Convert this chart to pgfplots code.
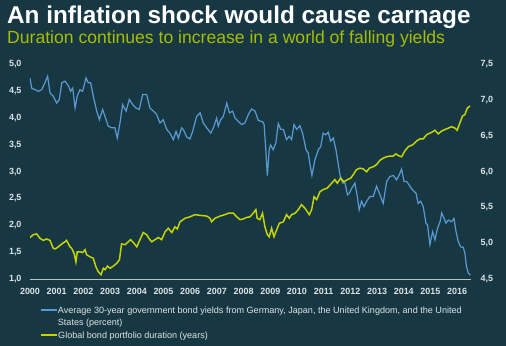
\documentclass[border=0pt]{standalone}
\usepackage{pgfplots}
\pgfplotsset{compat=1.18}
\usepackage{fontspec}
\setmainfont{Liberation Sans}
\definecolor{bg}{HTML}{173843}
\definecolor{blueline}{HTML}{5A9AD2}
\definecolor{yellowline}{HTML}{C4D400}
\definecolor{subt}{HTML}{A6BE00}
\definecolor{ticktxt}{HTML}{DDE3E6}
\definecolor{axisgray}{HTML}{B5C0C4}

\pgfplotstableread{
x y
2000.00 4.75
2000.06 4.56
2000.19 4.53
2000.31 4.50
2000.44 4.53
2000.56 4.66
2000.66 4.78
2000.75 4.47
2000.87 4.41
2001.00 4.28
2001.10 4.35
2001.19 4.66
2001.31 4.69
2001.44 4.60
2001.52 4.50
2001.60 4.56
2001.69 4.19
2001.77 4.41
2001.87 4.53
2001.97 4.50
2002.10 4.75
2002.18 4.66
2002.27 4.66
2002.37 4.41
2002.50 4.13
2002.60 3.97
2002.72 4.16
2002.81 4.03
2002.93 3.85
2003.06 3.82
2003.18 3.82
2003.27 3.63
2003.37 3.91
2003.47 4.25
2003.60 4.13
2003.72 4.35
2003.85 4.25
2003.97 4.19
2004.09 4.16
2004.22 4.44
2004.37 4.44
2004.49 4.19
2004.62 4.13
2004.74 4.07
2004.87 3.91
2004.99 3.97
2005.12 3.79
2005.24 3.72
2005.37 3.60
2005.47 3.75
2005.56 3.63
2005.68 3.82
2005.74 3.79
2005.87 3.65
2005.99 3.61
2006.09 3.75
2006.24 4.03
2006.37 4.10
2006.49 3.91
2006.62 3.82
2006.77 3.72
2006.87 3.82
2006.99 4.00
2007.05 3.85
2007.14 3.97
2007.24 4.03
2007.37 4.28
2007.47 4.10
2007.59 4.13
2007.68 4.00
2007.80 3.94
2007.93 3.88
2008.05 3.91
2008.18 4.07
2008.30 4.17
2008.43 4.13
2008.55 3.96
2008.65 3.94
2008.72 3.93
2008.77 3.88
2008.84 3.35
2008.89 2.93
2008.96 3.41
2009.01 3.50
2009.11 3.41
2009.21 3.54
2009.30 3.90
2009.39 3.79
2009.49 3.79
2009.61 3.60
2009.71 3.66
2009.80 3.60
2009.89 3.88
2009.99 3.79
2010.11 3.86
2010.21 3.72
2010.34 3.41
2010.42 3.35
2010.48 3.16
2010.56 2.93
2010.67 3.22
2010.80 3.41
2010.89 3.47
2010.98 3.72
2011.08 3.69
2011.17 3.74
2011.26 3.57
2011.36 3.63
2011.46 3.41
2011.55 3.13
2011.61 2.94
2011.71 2.79
2011.80 2.79
2011.89 2.57
2011.96 2.60
2012.05 2.69
2012.17 2.79
2012.26 2.54
2012.33 2.29
2012.42 2.45
2012.51 2.35
2012.61 2.45
2012.73 2.54
2012.86 2.54
2012.98 2.73
2013.11 2.57
2013.23 2.41
2013.36 2.82
2013.48 2.91
2013.61 2.93
2013.73 2.85
2013.83 2.94
2013.92 3.05
2014.01 2.82
2014.11 2.82
2014.23 2.73
2014.33 2.66
2014.46 2.60
2014.54 2.41
2014.63 2.45
2014.73 2.35
2014.83 2.04
2014.89 2.01
2014.98 1.64
2015.08 1.88
2015.17 1.73
2015.25 1.92
2015.36 2.07
2015.42 2.23
2015.51 2.13
2015.58 2.04
2015.67 2.10
2015.79 2.07
2015.88 2.13
2015.96 1.88
2016.04 1.70
2016.13 1.60
2016.23 1.59
2016.29 1.48
2016.35 1.23
2016.42 1.11
2016.50 1.07
}\yields

\pgfplotstableread{
x y
2000.00 5.08
2000.12 5.12
2000.25 5.13
2000.37 5.07
2000.50 5.04
2000.62 5.06
2000.75 5.04
2000.87 4.93
2000.94 4.92
2001.06 4.95
2001.19 4.99
2001.31 5.02
2001.37 5.04
2001.50 4.95
2001.56 4.93
2001.65 4.86
2001.72 4.74
2001.77 4.88
2001.87 4.88
2001.97 4.87
2002.06 4.91
2002.12 4.84
2002.25 4.81
2002.37 4.79
2002.47 4.67
2002.56 4.60
2002.66 4.56
2002.75 4.65
2002.81 4.63
2002.90 4.68
2003.00 4.65
2003.12 4.68
2003.25 4.72
2003.35 4.77
2003.43 4.99
2003.56 4.98
2003.68 5.02
2003.77 5.05
2003.87 5.01
2004.00 4.95
2004.12 5.05
2004.24 5.15
2004.37 5.12
2004.47 5.06
2004.56 5.02
2004.68 5.05
2004.81 5.08
2004.93 5.05
2005.06 5.16
2005.18 5.21
2005.31 5.15
2005.43 5.23
2005.52 5.20
2005.62 5.30
2005.81 5.35
2005.99 5.37
2006.18 5.40
2006.37 5.39
2006.62 5.38
2006.74 5.35
2006.80 5.30
2006.93 5.35
2007.12 5.38
2007.30 5.40
2007.43 5.42
2007.62 5.42
2007.74 5.37
2007.87 5.33
2007.99 5.34
2008.11 5.36
2008.24 5.37
2008.36 5.42
2008.46 5.47
2008.51 5.35
2008.61 5.33
2008.71 5.42
2008.80 5.23
2008.89 5.12
2008.96 5.09
2009.05 5.21
2009.14 5.09
2009.21 5.16
2009.34 5.28
2009.49 5.30
2009.61 5.40
2009.71 5.35
2009.80 5.40
2009.93 5.42
2010.05 5.47
2010.17 5.54
2010.30 5.49
2010.46 5.40
2010.55 5.47
2010.64 5.65
2010.74 5.61
2010.86 5.72
2010.98 5.75
2011.13 5.77
2011.30 5.84
2011.42 5.89
2011.51 5.84
2011.63 5.91
2011.76 5.86
2011.89 5.89
2012.01 5.91
2012.11 5.96
2012.23 6.03
2012.36 6.05
2012.48 6.04
2012.61 6.00
2012.71 6.05
2012.86 6.07
2012.98 6.10
2013.11 6.16
2013.23 6.19
2013.36 6.21
2013.48 6.22
2013.61 6.22
2013.70 6.25
2013.83 6.22
2013.92 6.21
2014.04 6.29
2014.17 6.35
2014.35 6.38
2014.48 6.43
2014.61 6.46
2014.73 6.46
2014.86 6.52
2015.04 6.55
2015.17 6.58
2015.29 6.53
2015.42 6.57
2015.54 6.59
2015.67 6.61
2015.79 6.63
2015.92 6.61
2016.00 6.58
2016.10 6.68
2016.20 6.78
2016.29 6.80
2016.38 6.89
2016.48 6.92
}\duration

\pgfplotsset{
  mylegend/.style={draw=none, fill=none, inner sep=0pt, outer sep=0pt,
    row sep=2.5bp, column sep=0.7bp, font=\fontsize{9.1}{11}\selectfont,
    nodes={inner sep=0pt, text height=7bp, text depth=2.2bp, text=ticktxt}, cells={anchor=base west}},
}

\begin{document}
\begin{tikzpicture}
\fill[bg] (0bp,0bp) rectangle (506bp,346bp);
\node[anchor=base west, inner sep=0, text=white, font=\fontsize{24.4}{28}\selectfont\bfseries] at (7bp,322.7bp) {An inflation shock would cause carnage};
\node[anchor=base west, inner sep=0, text=subt, font=\fontsize{17.65}{22}\selectfont] at (7bp,302bp) {Duration continues to increase in a world of falling yields};

\begin{axis}[
  at={(30bp,67bp)}, anchor=south west,
  scale only axis, width=440.5bp, height=214.5bp,
  xmin=2000, xmax=2016.5, ymin=1, ymax=5,
  axis x line*=bottom, axis y line*=left,
  axis line style={-},
  y axis line style={draw=none},
  x axis line style={draw=axisgray, line width=0.9bp},
  major tick length=0,
  xtick={2000,2001,...,2016},
  ytick={1,1.5,2,2.5,3,3.5,4,4.5,5},
  /pgf/number format/assume math mode=true,
  xticklabel style={/pgf/number format/1000 sep={}, text=ticktxt, font=\fontsize{9}{10}\selectfont\bfseries, yshift=-5.5bp},
  yticklabel style={/pgf/number format/.cd, use comma, fixed, fixed zerofill, precision=1, /tikz/.cd, text=ticktxt, font=\fontsize{9}{10}\selectfont\bfseries, xshift=-5bp},
  legend style={mylegend, at={(axis description cs:0.0227,-0.1273)}, anchor=north west},
  legend image code/.code={\draw[#1] (0bp,3.4bp) -- (16bp,3.4bp);},
]
\addplot[blueline, line width=1.2bp, mark=none] table[x=x,y=y] {\yields};
\addlegendentry{Average 30-year government bond yields from Germany, Japan, the United Kingdom, and the United}
\addlegendimage{empty legend}
\addlegendentry{States (percent)}
\end{axis}

\begin{axis}[
  at={(30bp,67bp)}, anchor=south west,
  scale only axis, width=440.5bp, height=214.5bp,
  xmin=2000, xmax=2016.5, ymin=4.5, ymax=7.5,
  hide x axis, axis y line*=right,
  axis line style={-},
  y axis line style={draw=none},
  major tick length=0,
  ytick={4.5,5,5.5,6,6.5,7,7.5},
  /pgf/number format/assume math mode=true,
  yticklabel style={/pgf/number format/.cd, use comma, fixed, fixed zerofill, precision=1, /tikz/.cd, text=ticktxt, font=\fontsize{9}{10}\selectfont\bfseries, xshift=6.5bp},
  legend style={mylegend, at={(axis description cs:0.0227,-0.2434)}, anchor=north west},
  legend image code/.code={\draw[#1] (0bp,3.4bp) -- (16bp,3.4bp);},
]
\addplot[yellowline, line width=1.5bp, mark=none] table[x=x,y=y] {\duration};
\addlegendentry{Global bond portfolio duration (years)}
\end{axis}
\end{tikzpicture}
\end{document}
